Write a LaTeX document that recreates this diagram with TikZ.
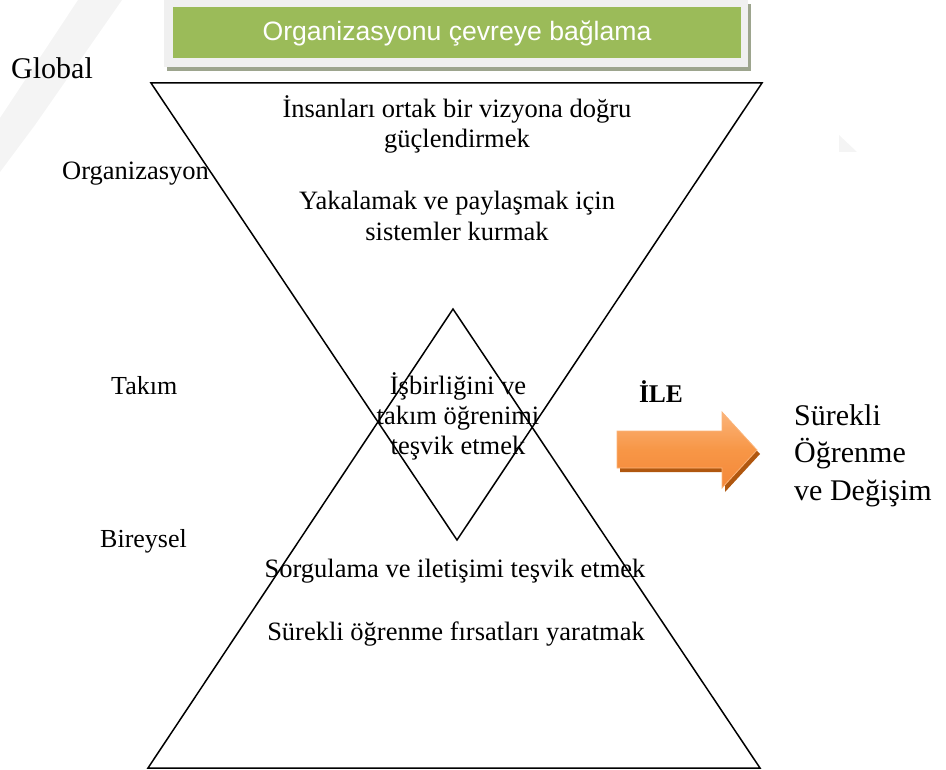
\documentclass[tikz,border=0pt]{standalone}
\usepackage{fontspec}
\setmainfont{Liberation Serif}
\newfontfamily\bannerfont{Liberation Sans}
\definecolor{bannergreen}{HTML}{9BBB59}
\definecolor{framegray}{HTML}{F0F0F0}
\definecolor{shadowgray}{HTML}{9DA58E}
\definecolor{arrowtop}{HTML}{FBB47A}
\definecolor{arrowmid}{HTML}{F79646}
\definecolor{arrowbot}{HTML}{F4883A}
\definecolor{arrowshadow}{HTML}{B0570F}
\definecolor{wmgray}{HTML}{F4F4F4}
\begin{document}
\begin{tikzpicture}[x=1pt,y=-1pt,
  edge/.style={line width=1.5pt, line join=miter},
  body/.style={font=\fontsize{26.5}{30}\selectfont, inner sep=0pt, anchor=base},
  level/.style={font=\fontsize{26}{30}\selectfont, inner sep=0pt, anchor=base west},
  big/.style={font=\fontsize{30}{36}\selectfont, inner sep=0pt, anchor=base west}]
\useasboundingbox (0,0) rectangle (946,770);

% faint background marks
\fill[wmgray] (78,0) -- (122,0) -- (35,125) -- (0,172) -- (0,118) -- cycle;
\fill[wmgray] (839,135) -- (857,152) -- (839,152) -- cycle;

% banner with frame and drop shadow
\fill[shadowgray] (167,4) rectangle (751,71);
\fill[framegray] (164,0) rectangle (748,67);
\node[fill=bannergreen, minimum width=568pt, minimum height=51pt, inner sep=0pt] (banner) at (457,32.5) {};
\node[font=\bannerfont\fontsize{26.6}{30}\selectfont, text=white, anchor=base, inner sep=0pt] (bannertxt) at (457,41) {Organizasyonu çevreye bağlama};

% inverted and upright triangles
\coordinate (tl) at (151,83);
\coordinate (tr) at (762,83);
\coordinate (tb) at (457,540);
\coordinate (bl) at (148,768);
\coordinate (br) at (760,768);
\coordinate (bt) at (453,309);
\draw[edge] (tl) -- (tr) -- (tb) -- cycle;
\draw[edge] (bl) -- (br) -- (bt) -- cycle;

% level labels
\node[big] (global) at (11,79) {Global};
\node[level, font=\fontsize{26.5}{30}\selectfont] (org) at (62,180) {Organizasyon};
\node[level] (takim) at (111,394) {Takım};
\node[level] (birey) at (100,547) {Bireysel};

% texts inside the shapes
\node[body] (o1) at (457,118) {İnsanları ortak bir vizyona doğru};
\node[body] (o2) at (457,148) {güçlendirmek};
\node[body] (o3) at (457,210) {Yakalamak ve paylaşmak için};
\node[body] (o4) at (457,241) {sistemler kurmak};
\node[body] (t1) at (458,394) {İşbirliğini ve};
\node[body] (t2) at (458,424) {takım öğrenimi};
\node[body] (t3) at (458,454) {teşvik etmek};
\node[body] (b1) at (455,577) {Sorgulama ve iletişimi teşvik etmek};
\node[body] (b2) at (456,640) {Sürekli öğrenme fırsatları yaratmak};

% block arrow
\node[font=\bfseries\fontsize{25.5}{30}\selectfont, inner sep=0pt, anchor=base] (ile) at (661,402) {İLE};
\fill[arrowshadow] (620,435) -- (725,435) -- (725,416) -- (760,454) -- (725,492) -- (725,472) -- (620,472) -- cycle;
\shade[top color=arrowtop, bottom color=arrowbot, middle color=arrowmid, draw=arrowtop, line width=0.8pt]
  (617,431) -- (722,431) -- (722,412) -- (757,450) -- (722,488) -- (722,468) -- (617,468) -- cycle;

% outcome
\node[big] (r1) at (794,425) {Sürekli};
\node[big] (r2) at (794,462) {Öğrenme};
\node[big] (r3) at (794,500) {ve Değişim};
\end{tikzpicture}
\end{document}
